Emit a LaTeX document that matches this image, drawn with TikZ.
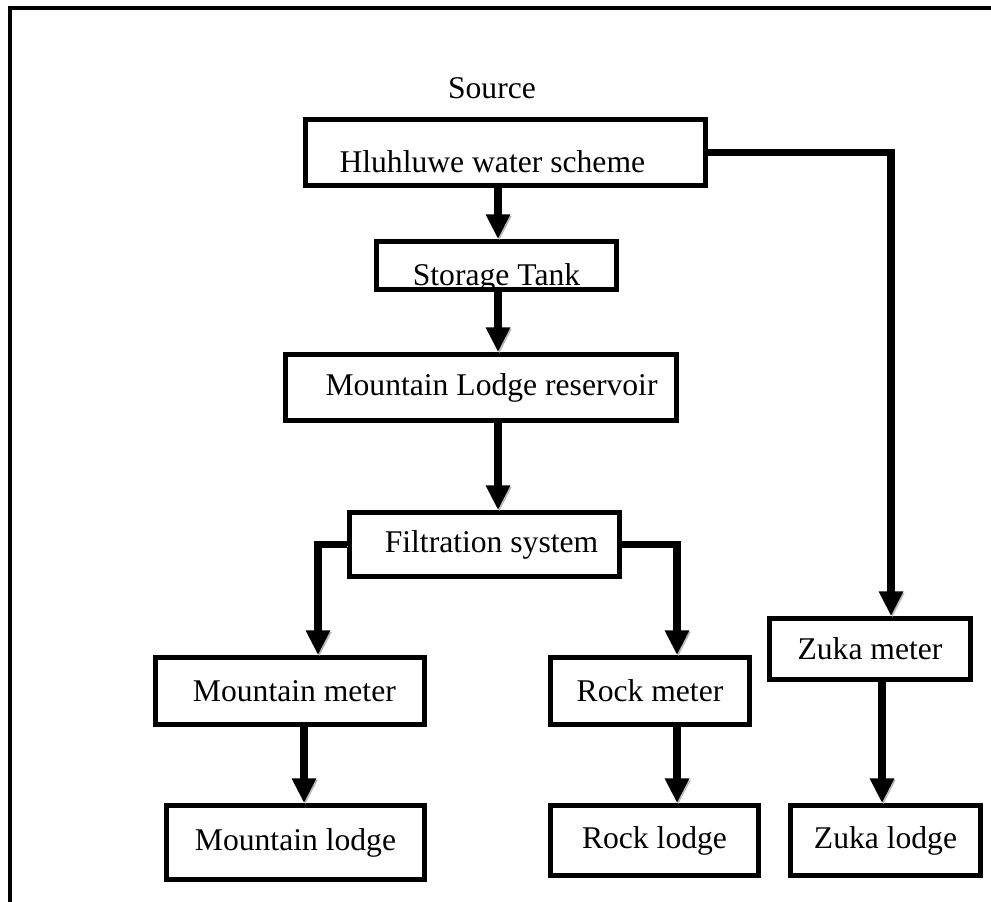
\documentclass[tikz,border=0pt]{standalone}
\usepackage{fontspec}
\setmainfont{Liberation Serif}
\usetikzlibrary{arrows.meta}

\begin{document}
\begin{tikzpicture}[x=0.02cm, y=-0.02cm,
        box/.style={draw, line width=2.8pt, inner sep=0pt, font=\fontsize{18}{22}\selectfont},
        lowtext/.style={text height=24.7pt, text depth=2.5pt},
        pipe/.style={line width=4.5pt, -{Triangle[length=14pt, width=13pt]},
            preaction={draw=gray!55, transform canvas={shift={(0.8pt,-0.8pt)}}}}]
                \useasboundingbox (0,0) rectangle (991,902);
                % outer frame
                \draw[line width=2.8pt] (10,905) -- (10,8) -- (991,8);

                \node[font=\fontsize{18}{22}\selectfont] (src) at (492,88) {Source};
                \node[box, lowtext, minimum width=8cm, minimum height=1.32cm] (hluh) at (505.5,152.5) {\hspace*{-15pt}Hluhluwe water scheme};
                \node[box, lowtext, minimum width=4.8cm, minimum height=0.96cm] (store) at (496.5,265.5) {Storage Tank};
                \node[box, minimum width=7.82cm, minimum height=1.32cm] (resv) at (481,387.5) {\hspace*{12pt}Mountain Lodge reservoir};
                \node[box, minimum width=5.4cm, minimum height=1.28cm] (filt) at (484.5,544.5) {\hspace*{8pt}Filtration system};
                \node[box, minimum width=5.38cm, minimum height=1.34cm] (mmeter) at (290,691) {\hspace*{5pt}Mountain meter};
                \node[box, minimum width=5.16cm, minimum height=1.48cm] (mlodge) at (295.5,842.5) {Mountain lodge};
                \node[box, minimum width=3.98cm, minimum height=1.34cm] (rmeter) at (650,691) {Rock meter};
                \node[box, minimum width=4.16cm, minimum height=1.4cm] (rlodge) at (654.5,840.5) {Rock lodge};
                \node[box, minimum width=4.02cm, minimum height=1.22cm] (zmeter) at (870,649) {Zuka meter};
                \node[box, minimum width=3.8cm, minimum height=1.4cm] (zlodge) at (885.5,840.5) {Zuka lodge};

                % pipe columns
                \coordinate (spine) at (498,0);
                \coordinate (lcol) at (318,0);
                \coordinate (mcol) at (304,0);
                \coordinate (rcol) at (677,0);
                \coordinate (zcol) at (891,0);
                \coordinate (zcol2) at (882,0);

                \draw[pipe] (spine |- hluh.south) -- (spine |- store.north);
                \draw[pipe] (spine |- store.south) -- (spine |- resv.north);
                \draw[pipe] (spine |- resv.south) -- (spine |- filt.north);
                \draw[pipe] (filt.west) -| (lcol |- mmeter.north);
                \draw[pipe] (filt.east) -| (rcol |- rmeter.north);
                \draw[pipe] (hluh.east) -| (zcol |- zmeter.north);
                \draw[pipe] (mcol |- mmeter.south) -- (mcol |- mlodge.north);
                \draw[pipe] (rcol |- rmeter.south) -- (rcol |- rlodge.north);
                \draw[pipe] (zcol2 |- zmeter.south) -- (zcol2 |- zlodge.north);
            \end{tikzpicture}
\end{document}
